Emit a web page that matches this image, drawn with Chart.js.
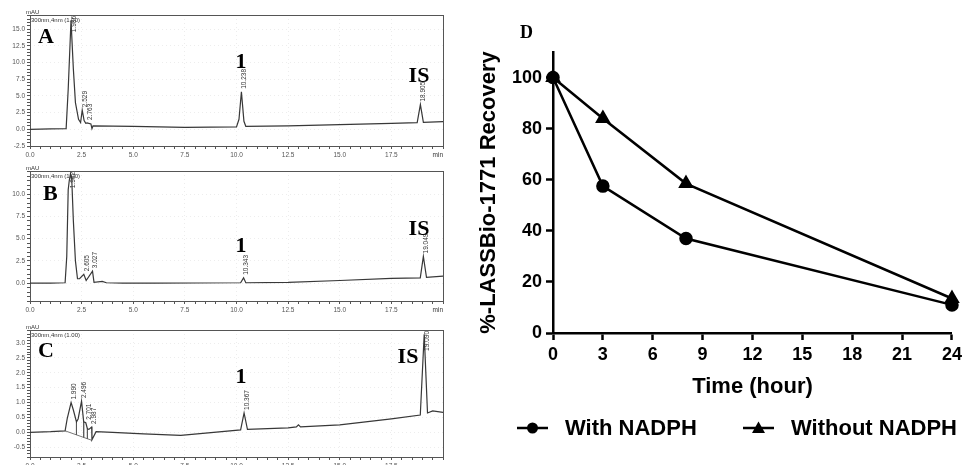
<!DOCTYPE html>
<html>
<head>
<meta charset="utf-8">
<script src="https://cdn.jsdelivr.net/npm/chart.js@4/dist/chart.umd.min.js"></script>
<style>
  html, body { margin: 0; padding: 0; background: #fff; }
  #page { position: relative; width: 966px; height: 465px; overflow: hidden; }
  #page canvas { position: absolute; }
</style>
</head>
<body>
<div id="page">
  <canvas id="chartA" width="455" height="160" style="left:0;top:0"></canvas>
  <canvas id="chartB" width="455" height="155" style="left:0;top:160px"></canvas>
  <canvas id="chartC" width="455" height="150" style="left:0;top:315px"></canvas>
  <canvas id="chartD" width="496" height="465" style="left:470px;top:0"></canvas>
</div>
<script>
// Chromatogram A (retention time in min, signal in mAU)
const timeA = [0, 1.0, 1.75, 1.85, 1.986, 2.1, 2.2, 2.35, 2.45, 2.529, 2.62, 2.7, 2.763, 2.95, 3.0, 3.05, 5.0, 7.5, 10.0, 10.12, 10.238, 10.36, 10.45, 12.5, 15.0, 17.5, 18.75, 18.905, 19.05, 20];
const signalA = [0.0, 0.05, 0.1, 6.0, 16.3, 9.0, 4.0, 1.5, 1.0, 2.85, 1.3, 0.9, 0.95, 0.8, 0.1, 0.5, 0.45, 0.3, 0.35, 1.5, 5.6, 1.2, 0.45, 0.5, 0.7, 0.9, 1.0, 3.7, 1.05, 1.15];
const peakTimeA = [1.986, 2.529, 2.763, 10.238, 18.905];
const peakHeightA = [16.3, 2.85, 0.95, 5.6, 3.7];

// Chromatogram B
const timeB = [0, 1.0, 1.7, 1.78, 1.85, 1.9, 1.962, 2.02, 2.1, 2.2, 2.3, 2.4, 2.605, 2.72, 3.027, 3.1, 3.5, 3.7, 4.5, 6.0, 10.2, 10.343, 10.45, 12.5, 15.0, 17.5, 18.9, 19.049, 19.2, 20];
const signalB = [0.0, 0.0, 0.05, 3.0, 10.5, 11.5, 12.3, 11.8, 7.0, 2.5, 0.5, 0.5, 1.0, 0.3, 1.35, 0.1, 0.2, 0.05, 0.0, 0.0, 0.05, 0.6, 0.05, 0.1, 0.3, 0.55, 0.6, 3.0, 0.65, 0.8];
const peakTimeB = [1.962, 2.605, 3.027, 10.343, 19.049];
const peakHeightB = [12.3, 1.0, 1.35, 0.6, 3.0];

// Chromatogram C
const timeC = [0, 1.0, 1.7, 1.8, 1.99, 2.1, 2.25, 2.33, 2.496, 2.6, 2.701, 2.78, 2.85, 2.987, 3.0, 3.2, 4.0, 5.5, 7.3, 8.5, 10.2, 10.367, 10.53, 12.5, 12.9, 13.0, 13.1, 15.0, 17.5, 18.9, 19.09, 19.25, 19.5, 20];
const signalC = [0.0, 0.02, 0.05, 0.45, 1.0, 0.75, 0.35, 0.45, 1.05, 0.35, 0.32, 0.12, 0.1, 0.18, -0.25, 0.02, 0.0, -0.05, -0.1, -0.03, 0.08, 0.65, 0.1, 0.15, 0.18, 0.25, 0.18, 0.25, 0.45, 0.58, 3.3, 0.65, 0.72, 0.67];
const peakTimeC = [1.990, 2.496, 2.701, 2.987, 10.367, 19.090];
const peakHeightC = [1.0, 1.05, 0.32, 0.18, 0.65, 3.3];
// integration baseline and drop lines under the early peaks of C (null = gap)
const baseTimeC = [1.7, 3.0, 3.0, 2.25, 2.25, 2.25, 2.6, 2.6, 2.6, 2.78, 2.78];
const baseSignalC = [0.05, -0.27, null, 0.35, -0.085, null, 0.35, -0.17, null, 0.12, -0.216];

// Panel D: recovery over time
const hours = [0, 3, 8, 24];
const withNADPH = [100, 57.5, 37, 11];
const withoutNADPH = [100, 84, 58.5, 13.5];

const SANS = '"Liberation Sans", Arial, sans-serif';
const SERIF = '"Liberation Serif", "Times New Roman", serif';

const isMultiple = (v, step) => Math.abs(v / step - Math.round(v / step)) < 1e-6;
const toPoints = (xs, ys) => xs.map((x, i) => ({ x, y: ys[i] }));

/**
 * Draws the full box around the plot area
 */
const frameBox = {
  id: "frameBox",
  beforeDatasetsDraw(chart) {
    const { ctx, chartArea: a } = chart;
    ctx.save();
    ctx.strokeStyle = "#555";
    ctx.lineWidth = 1;
    ctx.strokeRect(Math.round(a.left) + 0.5, Math.round(a.top) + 0.5,
      Math.round(a.right - a.left), Math.round(a.bottom - a.top));
    ctx.restore();
  },
};

/**
 * Texts of a chromatogram: detector info, retention times, panel letters
 */
function panelText(panel) {
  return {
    id: "panelText",
    afterDatasetsDraw(chart) {
      const { ctx, chartArea: a, scales: { x, y } } = chart;
      ctx.save();
      ctx.fillStyle = "#333";
      ctx.font = "6px " + SANS;
      ctx.textAlign = "left";
      ctx.textBaseline = "alphabetic";
      ctx.fillText("mAU", a.left - 4, a.top - 1);
      ctx.fillText("300nm,4nm (1.00)", a.left + 1, a.top + 7);
      if (panel.showMin) {
        ctx.font = "6.5px " + SANS;
        ctx.textAlign = "right";
        ctx.textBaseline = "middle";
        ctx.fillText("min", a.right, a.bottom + 9);
      }

      // retention time above each peak, rotated
      ctx.font = "6.5px " + SANS;
      ctx.textAlign = "left";
      ctx.textBaseline = "middle";
      panel.peakTime.forEach((t, i) => {
        const label = t.toFixed(3);
        const w = ctx.measureText(label).width;
        const px = x.getPixelForValue(t) + 3;
        let py = y.getPixelForValue(panel.peakHeight[i]) - 3;
        if (py - w < a.top + 1) py = a.top + 1 + w;
        ctx.save();
        ctx.translate(px, py);
        ctx.rotate(-Math.PI / 2);
        ctx.fillText(label, 0, 0);
        ctx.restore();
      });

      // panel letter and peak names
      ctx.fillStyle = "#000";
      ctx.font = "bold 22px " + SERIF;
      ctx.textBaseline = "alphabetic";
      ctx.textAlign = "left";
      ctx.fillText(panel.letter, panel.letterAt[0], panel.letterAt[1]);
      ctx.textAlign = "center";
      ctx.fillText("1", panel.oneAt[0], panel.oneAt[1]);
      ctx.fillText("IS", panel.isAt[0], panel.isAt[1]);
      ctx.restore();
    },
  };
}

function chromatogram(canvasId, panel) {
  const datasets = [
    {
      data: toPoints(panel.time, panel.signal),
      borderColor: "#383838",
      borderWidth: 1.2,
      pointRadius: 0,
      tension: 0,
    },
  ];
  if (panel.baseTime) {
    datasets.push({
      data: toPoints(panel.baseTime, panel.baseSignal),
      borderColor: "#555",
      borderWidth: 0.8,
      pointRadius: 0,
      tension: 0,
      spanGaps: false,
    });
  }

  const axisTicks = (major) => ({
    autoSkip: false,
    maxRotation: 0,
    padding: 2,
    color: "#555",
    font: { family: SANS, size: 6.5 },
    callback: (v) => (isMultiple(v, major) ? (Math.round(v / major) * major).toFixed(1) : ""),
  });
  const axisGrid = (major) => ({
    color: (ctx) => (ctx.tick && isMultiple(ctx.tick.value, major) ? "rgba(0,0,0,0.07)" : "rgba(0,0,0,0)"),
    tickColor: "#555",
    tickLength: 3,
    lineWidth: 1,
  });

  return new Chart(document.getElementById(canvasId), {
    type: "line",
    data: { datasets },
    options: {
      responsive: false,
      animation: false,
      layout: { padding: { top: panel.padTop, right: 12, bottom: 0, left: 0 } },
      plugins: { legend: { display: false }, tooltip: { enabled: false } },
      scales: {
        x: {
          type: "linear",
          min: 0,
          max: 20,
          ticks: {
            ...axisTicks(2.5),
            stepSize: 0.5,
            callback: (v) => (isMultiple(v, 2.5) && v < 19.9 ? (Math.round(v / 2.5) * 2.5).toFixed(1) : ""),
          },
          grid: axisGrid(2.5),
          border: { display: false, dash: [1, 3] },
          afterFit: (s) => { s.height = panel.xAxisHeight; },
        },
        y: {
          min: panel.yMin,
          max: panel.yMax,
          ticks: { ...axisTicks(panel.yMajor), stepSize: panel.yMinor },
          grid: axisGrid(panel.yMajor),
          border: { display: false, dash: [1, 3] },
          afterFit: (s) => { s.width = 30; },
        },
      },
    },
    plugins: [frameBox, panelText(panel)],
  });
}

chromatogram("chartA", {
  time: timeA, signal: signalA, peakTime: peakTimeA, peakHeight: peakHeightA,
  yMin: -2.5, yMax: 17.1, yMajor: 2.5, yMinor: 0.5,
  padTop: 15, xAxisHeight: 14, showMin: true,
  letter: "A", letterAt: [38, 43], oneAt: [241, 68], isAt: [419, 82],
});

chromatogram("chartB", {
  time: timeB, signal: signalB, peakTime: peakTimeB, peakHeight: peakHeightB,
  yMin: -2.0, yMax: 12.6, yMajor: 2.5, yMinor: 0.5,
  padTop: 11, xAxisHeight: 14, showMin: true,
  letter: "B", letterAt: [43, 40], oneAt: [241, 92], isAt: [419, 75],
});

chromatogram("chartC", {
  time: timeC, signal: signalC, peakTime: peakTimeC, peakHeight: peakHeightC,
  baseTime: baseTimeC, baseSignal: baseSignalC,
  yMin: -0.83, yMax: 3.44, yMajor: 0.5, yMinor: 0.1,
  padTop: 15, xAxisHeight: 8, showMin: false,
  letter: "C", letterAt: [38, 42], oneAt: [241, 68], isAt: [408, 48],
});

/**
 * Panel letter and legend with line + marker samples for D
 */
const recoveryDecor = {
  id: "recoveryDecor",
  afterDraw(chart) {
    const { ctx } = chart;
    ctx.save();
    ctx.fillStyle = "#000";
    ctx.strokeStyle = "#000";
    ctx.font = "bold 18px " + SERIF;
    ctx.textAlign = "left";
    ctx.textBaseline = "alphabetic";
    ctx.fillText("D", 50, 38);

    const y = 428;
    const items = [
      { label: chart.data.datasets[0].label, x0: 47, style: "circle" },
      { label: chart.data.datasets[1].label, x0: 273, style: "triangle" },
    ];
    ctx.font = "bold 22px " + SANS;
    ctx.textBaseline = "middle";
    items.forEach((it) => {
      ctx.lineWidth = 2.5;
      ctx.beginPath();
      ctx.moveTo(it.x0, y);
      ctx.lineTo(it.x0 + 31, y);
      ctx.stroke();
      const cx = it.x0 + 15.5;
      ctx.beginPath();
      if (it.style === "circle") {
        ctx.arc(cx, y, 5.5, 0, Math.PI * 2);
      } else {
        ctx.moveTo(cx, y - 6.5);
        ctx.lineTo(cx + 6.5, y + 5);
        ctx.lineTo(cx - 6.5, y + 5);
        ctx.closePath();
      }
      ctx.fill();
      ctx.fillText(it.label, it.x0 + 48, y + 1);
    });
    ctx.restore();
  },
};

const boldTicks = { color: "#000", font: { family: SANS, size: 18, weight: "bold" }, padding: 4 };
const tickMarks = { drawOnChartArea: false, tickLength: 7, tickWidth: 2.5, tickColor: "#000" };

new Chart(document.getElementById("chartD"), {
  type: "line",
  data: {
    datasets: [
      {
        label: "With NADPH",
        data: toPoints(hours, withNADPH),
        borderColor: "#000",
        backgroundColor: "#000",
        borderWidth: 2.5,
        pointStyle: "circle",
        pointRadius: 5.5,
        tension: 0,
        clip: false,
      },
      {
        label: "Without NADPH",
        data: toPoints(hours, withoutNADPH),
        borderColor: "#000",
        backgroundColor: "#000",
        borderWidth: 2.5,
        pointStyle: "triangle",
        pointRadius: 6.5,
        tension: 0,
        clip: false,
      },
    ],
  },
  options: {
    responsive: false,
    animation: false,
    layout: { padding: { top: 52, right: 12, bottom: 65, left: 0 } },
    plugins: { legend: { display: false }, tooltip: { enabled: false } },
    scales: {
      x: {
        type: "linear",
        min: 0,
        max: 24,
        ticks: { ...boldTicks, stepSize: 3 },
        grid: tickMarks,
        border: { color: "#000", width: 2.5 },
        title: {
          display: true,
          text: "Time (hour)",
          color: "#000",
          font: { family: SANS, size: 22, weight: "bold" },
          padding: 0,
        },
        afterFit: (s) => { s.height = 67; },
      },
      y: {
        min: 0,
        max: 110,
        afterBuildTicks: (s) => { s.ticks = s.ticks.filter((t) => t.value <= 100); },
        ticks: { ...boldTicks, stepSize: 20 },
        grid: tickMarks,
        border: { color: "#000", width: 2.5 },
        title: {
          display: true,
          text: "%-LASSBio-1771 Recovery",
          color: "#000",
          font: { family: SANS, size: 22, weight: "bold" },
          padding: { top: 6, bottom: 0 },
        },
        afterFit: (s) => { s.width = 83; },
      },
    },
  },
  plugins: [recoveryDecor],
});
</script>
</body>
</html>
